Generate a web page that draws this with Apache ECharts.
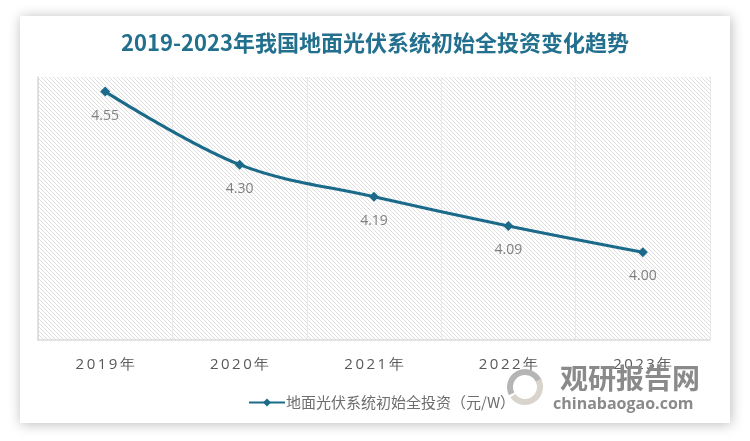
<!DOCTYPE html>
<html>
<head>
<meta charset="utf-8">
<script src="https://cdn.jsdelivr.net/npm/echarts@6/dist/echarts.min.js"></script>
<style>html,body{margin:0;padding:0;background:#fff;}#c{width:750px;height:441px;}</style>
</head>
<body>
<div id="c"></div>
<script>
var titleText = '2019-2023年我国地面光伏系统初始全投资变化趋势';
var categories = ['2019年', '2020年', '2021年', '2022年', '2023年'];
var seriesName = '地面光伏系统初始全投资（元/W）';
var values = [4.55, 4.30, 4.19, 4.09, 4.00];

function makeHatch() {
  var cv = document.createElement('canvas');
  cv.width = 4; cv.height = 4;
  var ctx = cv.getContext('2d');
  ctx.fillStyle = '#ffffff';
  ctx.fillRect(0, 0, 4, 4);
  ctx.fillStyle = '#dedede';
  for (var i = 0; i < 4; i++) ctx.fillRect(i, i, 1, 1);
  return cv;
}

var chart = echarts.init(document.getElementById('c'), null, {renderer: 'canvas'});
var lineColor = '#1b6a8a';
chart.setOption({
  backgroundColor: '#ffffff',
  animation: false,
  graphic: [
    {type: 'rect', z: -10, shape: {x: 20, y: 16, width: 710, height: 407},
     style: {fill: '#ffffff', shadowBlur: 12, shadowColor: 'rgba(0,0,0,0.28)', shadowOffsetX: 1, shadowOffsetY: 1}},
    {type: 'arc', z: 1, shape: {cx: 525, cy: 387, r: 15, startAngle: Math.PI * 0.85, endAngle: Math.PI * 1.9},
     style: {stroke: '#b5b5b5', lineWidth: 6, fill: null}},
    {type: 'arc', z: 1, shape: {cx: 525, cy: 387, r: 15, startAngle: -Math.PI * 0.15, endAngle: Math.PI * 0.8},
     style: {stroke: '#d8d4cc', lineWidth: 6, fill: null}},
    {type: 'text', z: 1, left: 560, top: 364,
     style: {text: '观研报告网', fill: '#8a8a8a', font: 'bold 28px "Noto Sans CJK SC"'}},
    {type: 'text', z: 1, left: 553, top: 396,
     style: {text: 'chinabaogao.com', fill: '#8a8a8a', font: 'bold 16px "Open Sans"'}}
  ],
  title: {
    text: titleText,
    left: 'center',
    top: 27,
    textStyle: {color: '#226f8e', fontSize: 22, fontWeight: 'bold', fontFamily: '"Noto Sans CJK SC"'}
  },
  legend: {
    data: [seriesName],
    left: 243,
    top: 390,
    itemWidth: 36,
    itemHeight: 10,
    itemGap: 4,
    textStyle: {color: '#6e6e6e', fontSize: 15, fontFamily: '"Noto Sans CJK SC"', padding: [0, 0, 0, -4]}
  },
  grid: {
    left: 38, right: 40, top: 77, bottom: 101,
    show: true,
    borderWidth: 0,
    backgroundColor: {image: makeHatch(), repeat: 'repeat'}
  },
  xAxis: {
    type: 'category',
    data: categories,
    boundaryGap: true,
    axisLine: {show: true, lineStyle: {color: '#d9d9d9', width: 1.5}},
    axisTick: {show: false},
    splitLine: {show: true, lineStyle: {color: '#e8e8e8', width: 1}},
    axisLabel: {
      color: '#595959', fontSize: 15, margin: 17, fontFamily: '"Open Sans"',
      formatter: function (v) { return v.split('').join('\u2009'); }
    }
  },
  yAxis: {
    type: 'value',
    min: 3.7, max: 4.6,
    axisLine: {show: true, lineStyle: {color: '#d9d9d9', width: 1.5}},
    axisTick: {show: false},
    axisLabel: {show: false},
    splitLine: {show: false}
  },
  series: [{
    name: seriesName,
    type: 'line',
    data: values,
    smooth: 0.35,
    symbol: 'diamond',
    symbolSize: 10,
    lineStyle: {color: lineColor, width: 3},
    itemStyle: {color: lineColor},
    label: {
      show: true, position: 'bottom', distance: 12,
      color: '#7f7f7f', fontSize: 14, fontFamily: '"Open Sans"',
      formatter: function (p) { return p.value.toFixed(2); }
    }
  }]
});
</script>
</body>
</html>
